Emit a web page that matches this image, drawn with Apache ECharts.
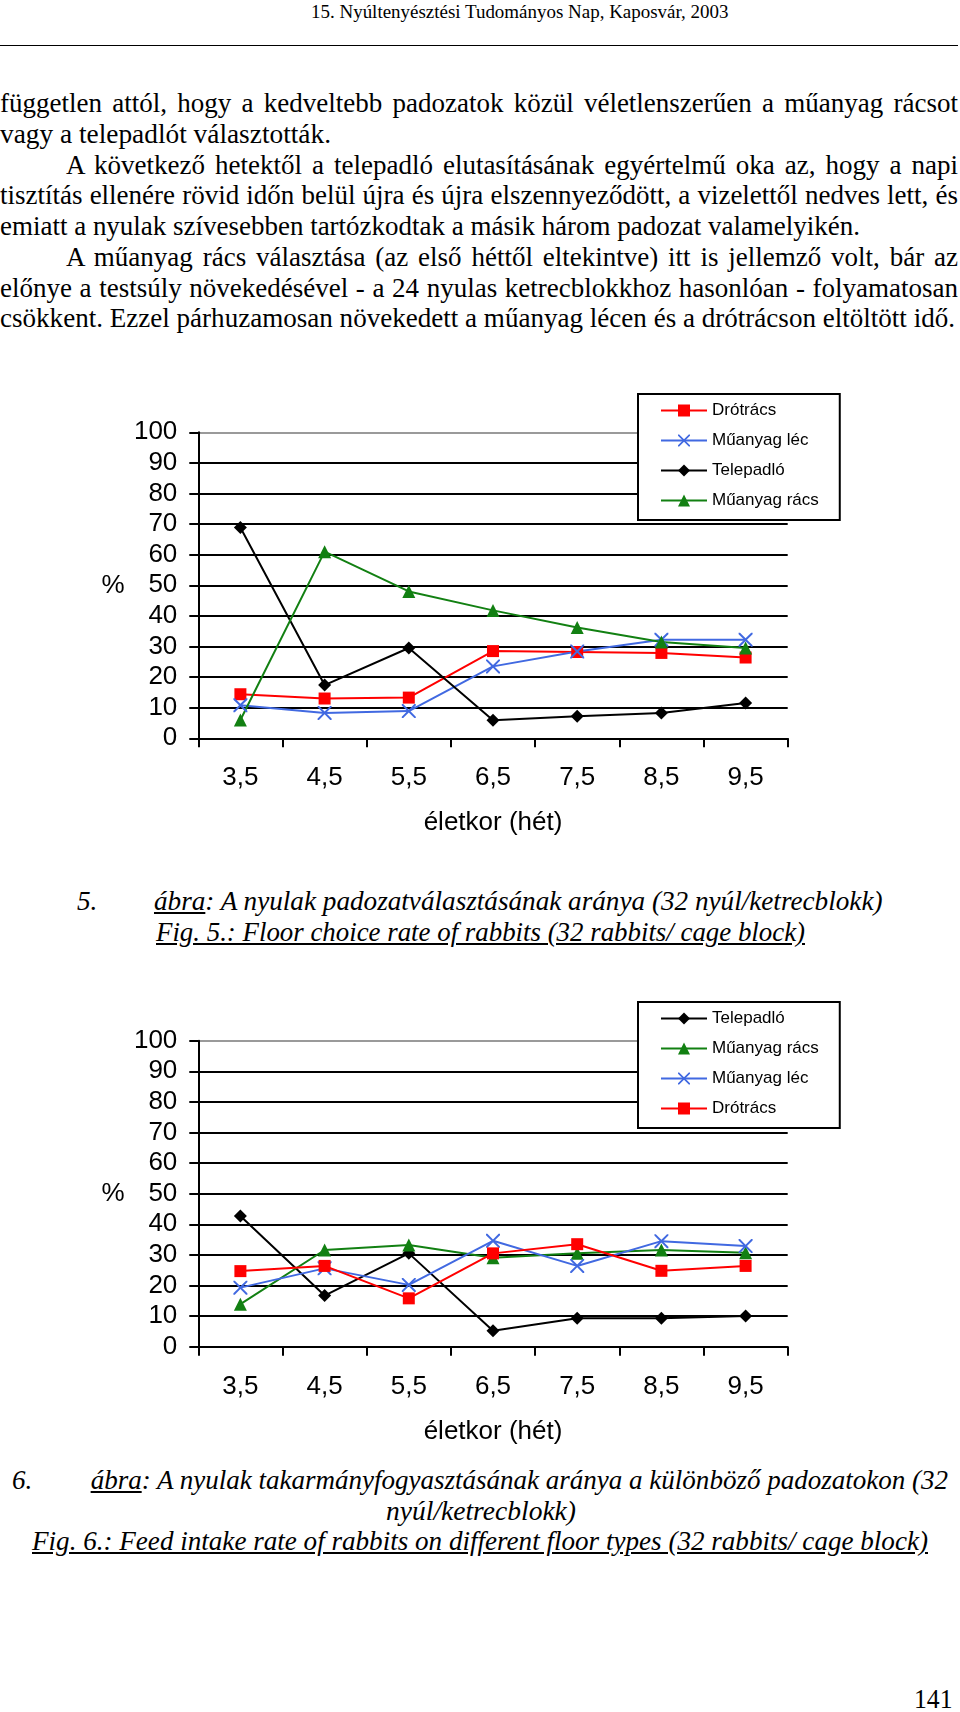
<!DOCTYPE html>
<html><head><meta charset="utf-8">
<script src="https://cdn.jsdelivr.net/npm/echarts@6/dist/echarts.min.js"></script>
<style>
html,body{margin:0;padding:0;background:#fff;}
body{width:960px;height:1712px;position:relative;overflow:hidden;font-family:"Liberation Serif","Times New Roman",serif;color:#000;}
.ln{position:absolute;white-space:nowrap;display:inline-block;transform-origin:0 0;}
.num{display:inline-block;}
#chart{position:absolute;left:0;top:0;width:960px;height:1712px;z-index:2;}
.rule{position:absolute;left:0;top:45px;width:958px;height:1px;background:#000;}
</style></head><body>
<div class="rule"></div>
<div id="prose"></div>
<div id="chart"></div>
<script>
// ---------------- data ----------------
const weeks = ['3,5', '4,5', '5,5', '6,5', '7,5', '8,5', '9,5'];
const axisTitle = 'életkor (hét)';
const yUnit = '%';

// Fig. 5: floor choice rate (%)
const fig5Drotracs    = [14.4, 13.0, 13.3, 28.5, 28.2, 27.9, 26.4];
const fig5MuanyagLec  = [10.8, 8.3, 8.9, 23.5, 28.4, 32.2, 32.2];
const fig5Telepadlo   = [68.9, 17.4, 29.5, 5.9, 7.2, 8.3, 11.5];
const fig5MuanyagRacs = [6.0, 61.0, 48.0, 41.8, 36.2, 31.5, 29.5];
const fig5Order = ['Drótrács', 'Műanyag léc', 'Telepadló', 'Műanyag rács'];

// Fig. 6: feed intake rate (%)
const fig6Telepadlo   = [42.7, 16.7, 30.5, 5.2, 9.3, 9.3, 10.0];
const fig6MuanyagRacs = [13.9, 31.6, 33.2, 29.1, 30.5, 31.6, 30.7];
const fig6MuanyagLec  = [19.3, 25.6, 20.2, 34.6, 26.4, 34.5, 32.9];
const fig6Drotracs    = [24.7, 26.4, 15.8, 30.5, 33.5, 24.8, 26.4];
const fig6Order = ['Telepadló', 'Műanyag rács', 'Műanyag léc', 'Drótrács'];

// ---------------- page text ----------------
const headerText = '15. Nyúltenyésztési Tudományos Nap, Kaposvár, 2003';
const bodyLines = [
  ['független attól, hogy a kedveltebb padozatok közül véletlenszerűen a műanyag rácsot', 0, 958, 'j'],
  ['vagy a telepadlót választották.', 0, 331, 'f'],
  ['A következő hetektől a telepadló elutasításának egyértelmű oka az, hogy a napi', 66, 958, 'j'],
  ['tisztítás ellenére rövid időn belül újra és újra elszennyeződött, a vizelettől nedves lett, és', 0, 958, 'j'],
  ['emiatt a nyulak szívesebben tartózkodtak a másik három padozat valamelyikén.', 0, 860, 'f'],
  ['A műanyag rács választása (az első héttől eltekintve) itt is jellemző volt, bár az', 66, 958, 'j'],
  ['előnye a testsúly növekedésével - a 24 nyulas ketrecblokkhoz hasonlóan - folyamatosan', 0, 958, 'j'],
  ['csökkent. Ezzel párhuzamosan növekedett a műanyag lécen és a drótrácson eltöltött idő.', 0, 955, 'f']
];
const captionLines = [
  ['<span class="num" style="width:76.5px">5.</span><u>ábra</u>: A nyulak padozatválasztásának aránya (32 nyúl/ketrecblokk)', 76.5, 882, 911],
  ['<u>Fig. 5.: Floor choice rate of rabbits (32 rabbits/ cage block)</u>', 156, 805, 942],
  ['<span class="num" style="width:78.6px">6.</span><u>ábra</u>: A nyulak takarmányfogyasztásának aránya a különböző padozatokon (32', 12, 948, 1489.5],
  ['nyúl/ketrecblokk)', 385.7, 575.7, 1520.5],
  ['<u>Fig. 6.: Feed intake rate of rabbits on different floor types (32 rabbits/ cage block)</u>', 32, 928, 1551]
];
const pageNumber = '141';

// ---------------- prose layout ----------------
const prose = document.getElementById('prose');
const placed = [];
function addLine(html, left, right, base, size, italic, mode) {
  const el = document.createElement('div');
  el.className = 'ln';
  el.innerHTML = html;
  el.style.fontSize = size + 'px';
  el.style.lineHeight = size + 'px';
  el.style.left = left + 'px';
  el.style.top = (base - 0.8375 * size) + 'px';
  if (italic) el.style.fontStyle = 'italic';
  prose.appendChild(el);
  placed.push({el, width: right - left, mode, text: el.textContent});
}
addLine(headerText, 311, 728.5, 18, 19, false, 'f');
bodyLines.forEach((l, i) => addLine(l[0], l[1], l[2], 113 + 30.7 * i, 27, false, l[3]));
captionLines.forEach(l => addLine(l[0], l[1], l[2], l[3], 27, true, 'f'));
addLine(pageNumber, 914, 952.5, 1708, 28, false, 'f');

function fitAll() {
  placed.forEach(p => {
    p.el.style.transform = '';
    p.el.style.wordSpacing = '';
    const w = p.el.getBoundingClientRect().width;
    if (!w) return;
    if (p.mode === 'j') {
      const n = (p.text.match(/ /g) || []).length;
      const ws = (p.width - w) / n;
      if (ws > -3) { p.el.style.wordSpacing = ws + 'px'; return; }
    }
    let s = p.width / w;
    s = Math.max(0.85, Math.min(1.2, s));
    p.el.style.transform = 'scaleX(' + s + ')';
  });
}
fitAll();
if (document.fonts && document.fonts.ready) document.fonts.ready.then(fitAll);

// ---------------- chart ----------------
const FONT = '"Liberation Sans", Arial, sans-serif';
const X_PATH = 'path://M0,0L2,0L10,8L18,0L20,0L20,2L12,10L20,18L20,20L18,20L10,12L2,20L0,20L0,18L8,10L0,2Z';
const STYLE = {
  'Drótrács':     {color: '#ff0000', symbol: 'rect', size: 12},
  'Műanyag léc':  {color: '#4169e1', symbol: X_PATH, size: 14},
  'Telepadló':    {color: '#000000', symbol: 'diamond', size: 13},
  'Műanyag rács': {color: '#128012', symbol: 'triangle', size: 13}
};
const fig5Data = {'Drótrács': fig5Drotracs, 'Műanyag léc': fig5MuanyagLec, 'Telepadló': fig5Telepadlo, 'Műanyag rács': fig5MuanyagRacs};
const fig6Data = {'Telepadló': fig6Telepadlo, 'Műanyag rács': fig6MuanyagRacs, 'Műanyag léc': fig6MuanyagLec, 'Drótrács': fig6Drotracs};

const gridTops = [432.3, 1040.7];
const gridLineColors = ['#000','#000','#000','#000','#000','#000','#000','#000','#000','#000','#9a9a9a'];

function makeX(i) {
  return {
    type: 'category', gridIndex: i, data: weeks, boundaryGap: true,
    axisLine: {show: true, lineStyle: {color: '#000', width: 2}},
    axisTick: {show: true, length: 9, interval: 0, alignWithLabel: false, lineStyle: {color: '#000', width: 2}},
    axisLabel: {interval: 0, margin: 27, fontSize: 26, color: '#000', fontFamily: FONT},
    splitLine: {show: false},
    name: axisTitle, nameLocation: 'middle', nameGap: 72,
    nameTextStyle: {fontSize: 26, color: '#000', fontFamily: FONT}
  };
}
function makeY(i) {
  return {
    type: 'value', gridIndex: i, min: 0, max: 100, interval: 10,
    axisLine: {show: true, lineStyle: {color: '#000', width: 2}},
    axisTick: {show: true, length: 9, lineStyle: {color: '#000', width: 2}},
    axisLabel: {margin: 21, fontSize: 26, color: '#000', fontFamily: FONT},
    splitLine: {show: true, lineStyle: {color: gridLineColors, width: 2}}
  };
}
function makeSeries(dataMap, order, idx) {
  return order.map(name => ({
    name, type: 'line', xAxisIndex: idx, yAxisIndex: idx,
    data: dataMap[name],
    symbol: STYLE[name].symbol, symbolSize: STYLE[name].size, symbolKeepAspect: true,
    showAllSymbol: true,
    lineStyle: {color: STYLE[name].color, width: 2},
    itemStyle: {color: STYLE[name].color, borderWidth: 0},
    emphasis: {disabled: true}
  }));
}
function makeLegend(order, top) {
  return {
    orient: 'vertical', left: 638, top: top, data: order,
    itemWidth: 46, itemHeight: 15, itemGap: 13,
    padding: [8, 21, 11, 22],
    borderColor: '#000', borderWidth: 2, backgroundColor: '#fff',
    textStyle: {fontSize: 17, color: '#000', fontFamily: FONT},
    selectedMode: false, z: 10
  };
}

const chart = echarts.init(document.getElementById('chart'), null, {renderer: 'canvas', width: 960, height: 1712});
chart.setOption({
  animation: false,
  backgroundColor: 'transparent',
  textStyle: {fontFamily: FONT},
  grid: gridTops.map(t => ({left: 198.3, top: t, width: 589.4, height: 306, containLabel: false})),
  xAxis: [makeX(0), makeX(1)],
  yAxis: [makeY(0), makeY(1)],
  legend: [makeLegend(fig5Order, 394), makeLegend(fig6Order, 1002)],
  graphic: gridTops.map(t => ({
    type: 'text', x: 113, y: t + 153.5,
    style: {text: yUnit, fontSize: 26, fill: '#000', fontFamily: FONT, align: 'center', verticalAlign: 'middle'}
  })),
  series: makeSeries(fig5Data, fig5Order, 0).concat(makeSeries(fig6Data, fig6Order, 1))
});
</script></body></html>
